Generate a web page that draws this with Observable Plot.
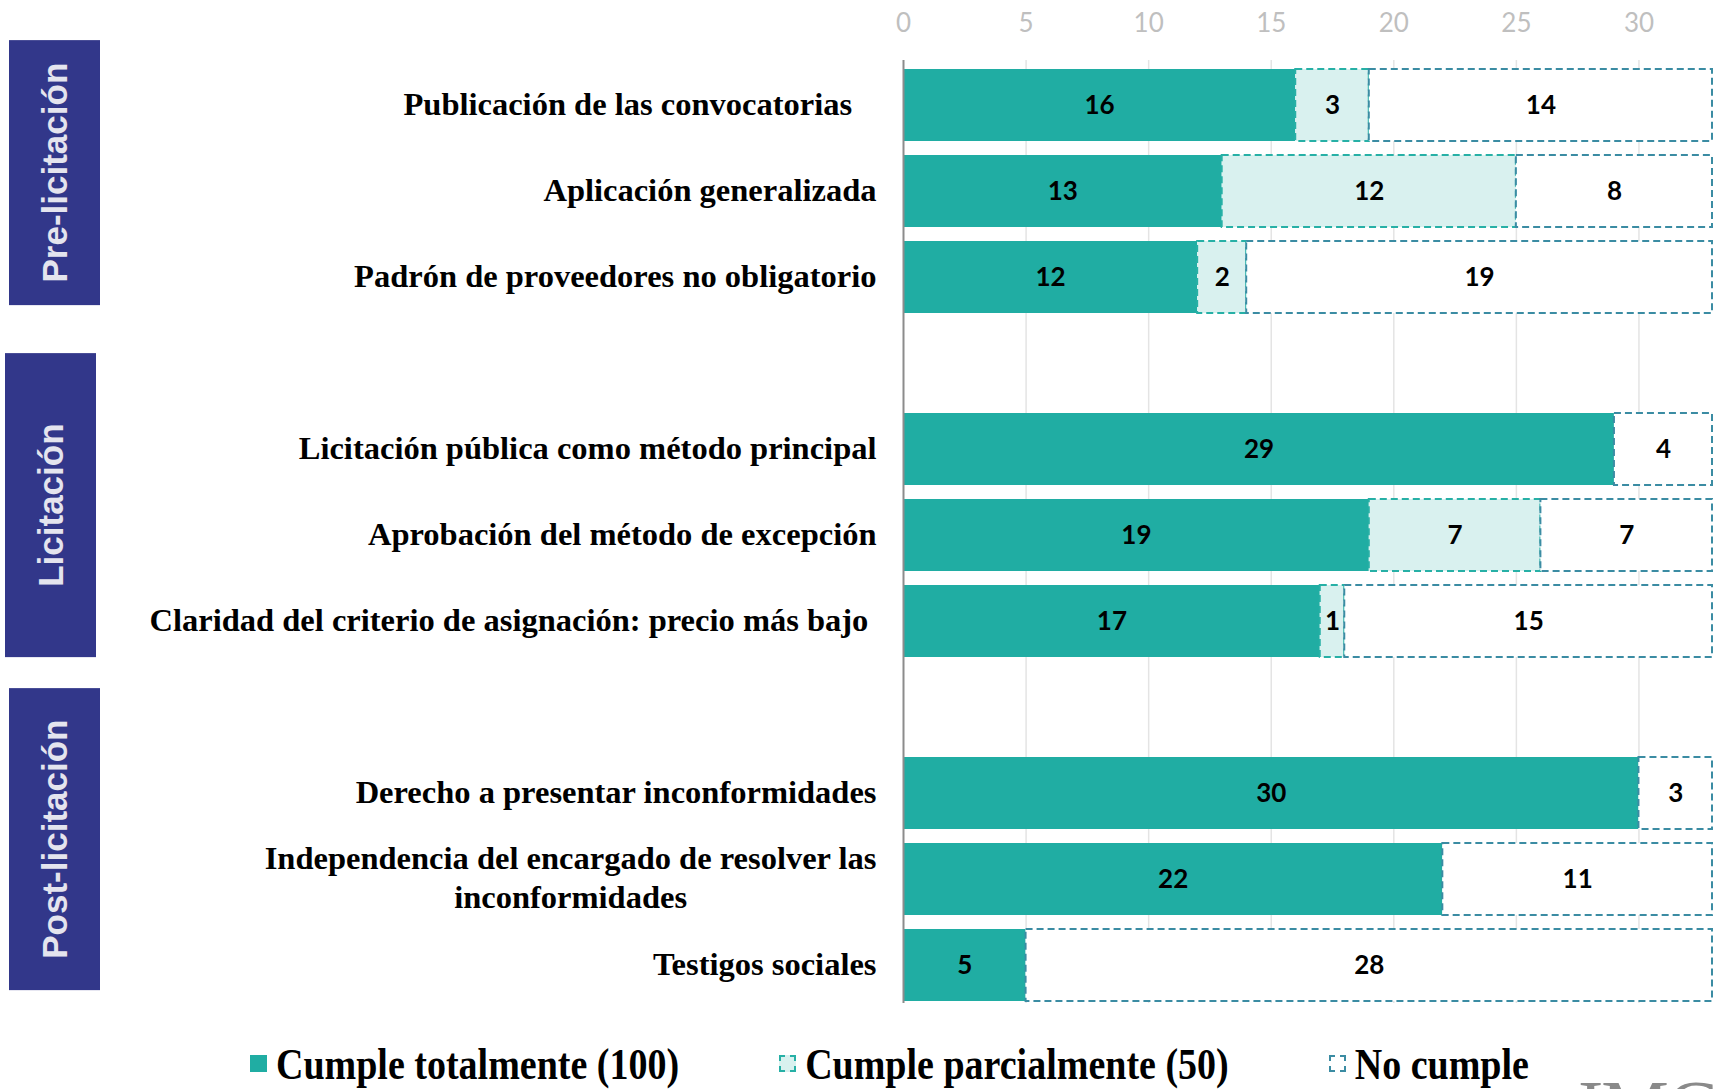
<!DOCTYPE html>
<html>
<head>
<meta charset="utf-8">
<script src="https://cdn.jsdelivr.net/npm/d3@7"></script>
<script src="https://cdn.jsdelivr.net/npm/@observablehq/plot@0.6"></script>
<style>
  html, body { margin: 0; padding: 0; background: #fff; overflow: hidden; }
  #wrap { position: relative; width: 1714px; height: 1089px; overflow: hidden; }
  #chart svg { display: block; }
  g[aria-label="y-axis tick label"] text { font-family: "Liberation Serif", serif; font-weight: bold; font-size: 32.5px; fill: #000; }
  g[aria-label="x-axis tick label"] text { font-family: Lato, "Open Sans", sans-serif; font-size: 26px; fill: #bfbfbf; }
  #legend { position: absolute; left: 0; top: 1028px; width: 1714px; height: 59px; display: flex; align-items: center; padding-top: 12px; box-sizing: border-box; padding-left: 250px; gap: 100px; }
  .item { display: flex; align-items: center; gap: 9px; }
  .sw { width: 17px; height: 17px; box-sizing: border-box; }
  .lt { font-family: "Liberation Serif", serif; font-weight: bold; font-size: 38px; line-height: 1; color: #000; display: inline-block; transform: scaleY(1.18); white-space: nowrap; }
  #logo { position: absolute; left: 1578px; top: 1064px; font-family: "Liberation Serif", serif; font-size: 76px; color: #8a8a8a; letter-spacing: -2px; }
</style>
</head>
<body>
<div id="wrap">
  <div id="chart"></div>
  <div id="legend"></div>
  <div id="logo">IMC</div>
</div>
<script>
// ---------- data ----------
const categories = [
  "Publicación de las convocatorias\u00a0\u00a0\u00a0",
  "Aplicación generalizada",
  "Padrón de proveedores no obligatorio",
  "Licitación pública como método principal",
  "Aprobación del método de excepción",
  "Claridad del criterio de asignación: precio más bajo\u00a0",
  "Derecho a presentar inconformidades",
  "Independencia del encargado de resolver las\ninconformidades",
  "Testigos sociales"
];
const cumpleTotal   = [16, 13, 12, 29, 19, 17, 30, 22, 5];
const cumpleParcial = [3, 12, 2, 0, 7, 1, 0, 0, 0];
const noCumple      = [14, 8, 19, 4, 7, 15, 3, 11, 28];
const statuses = ["Cumple totalmente (100)", "Cumple parcialmente (50)", "No cumple"];
const groups = ["Pre-licitación", "Licitación", "Post-licitación"];
const rowGroup = [0, 0, 0, 1, 1, 1, 2, 2, 2];
const xTicks = [0, 5, 10, 15, 20, 25, 30];

// ---------- styles ----------
const fillColors   = {"Cumple totalmente (100)": "#20ada3", "Cumple parcialmente (50)": "#d9f1ef", "No cumple": "#ffffff"};
const strokeColors = {"Cumple totalmente (100)": "none", "Cumple parcialmente (50)": "#27b0a6", "No cumple": "#3b8ca3"};
const boxStyle = {fill: "#32378a", text: "#e4e4ee", width: 91};
const boxLayout = [ {x: 9, top: -65, bottom: 28}, {x: 5, top: -96, bottom: 36}, {x: 9, top: -105, bottom: 25} ];

// slot keys, with blank slots between groups
const slots = [];
const keyOf = [];
categories.forEach((c, i) => {
  if (i > 0 && rowGroup[i] !== rowGroup[i - 1]) slots.push("gap" + rowGroup[i]);
  const k = "row" + i;
  keyOf.push(k);
  slots.push(k);
});
const labelOf = Object.fromEntries(keyOf.map((k, i) => [k, categories[i]]));

const rows = [];
categories.forEach((c, i) => {
  [cumpleTotal[i], cumpleParcial[i], noCumple[i]].forEach((v, j) => {
    if (v > 0) rows.push({key: keyOf[i], status: statuses[j], value: v});
  });
});

// group boxes as a render-function mark using the y scale
function groupBoxes(index, scales, values, dimensions) {
  const y = scales.y;
  const step = y(slots[1]) - y(slots[0]);
  const bw = step * (1 - 0.16);
  const g = d3.create("svg:g").attr("aria-label", "group boxes");
  groups.forEach((name, gi) => {
    const members = keyOf.filter((k, i) => rowGroup[i] === gi);
    const c0 = y(members[0]) + bw / 2;
    const c1 = y(members[members.length - 1]) + bw / 2;
    const L = boxLayout[gi];
    const top = c0 + L.top, bottom = c1 + L.bottom;
    g.append("rect").attr("x", L.x).attr("y", top).attr("width", boxStyle.width).attr("height", bottom - top)
      .attr("fill", boxStyle.fill);
    const cx = L.x + boxStyle.width / 2, cy = (top + bottom) / 2;
    g.append("text").attr("transform", `translate(${cx},${cy}) rotate(-90)`)
      .attr("text-anchor", "middle").attr("dominant-baseline", "central")
      .attr("font-family", "'Liberation Sans', Arial, sans-serif").attr("font-weight", "bold")
      .attr("font-size", 35).attr("fill", boxStyle.text).text(name);
  });
  return g.node();
}

const chart = Plot.plot({
  width: 1714,
  height: 1030,
  marginLeft: 903,
  marginRight: 2,
  marginTop: 60,
  marginBottom: 19,
  style: {background: "transparent", overflow: "visible"},
  x: {domain: [0, 33], axis: null},
  y: {domain: slots, paddingInner: 0.16, paddingOuter: 0.08, axis: null},
  color: {type: "identity"},
  marks: [
    Plot.gridX({ticks: xTicks.slice(1), stroke: "#e4e4e4", strokeOpacity: 1, strokeWidth: 1.5, insetBottom: 8}),
    Plot.axisX({anchor: "top", ticks: xTicks, tickSize: 0, tickPadding: 29, color: "#bfbfbf", label: null}),
    Plot.axisY({tickSize: 0, tickPadding: 27, dy: -3, tickFormat: k => k.startsWith("gap") ? "" : labelOf[k], lineHeight: 1.2, label: null}),
    Plot.barX(rows, Plot.stackX({
      x: "value", y: "key",
      fill: d => fillColors[d.status],
      stroke: d => strokeColors[d.status],
      strokeWidth: 2, strokeDasharray: "7,4"
    })),
    Plot.ruleX([0], {stroke: "#8c8c8c", strokeWidth: 2, insetBottom: 8}),
    Plot.text(rows, Plot.stackX({
      x: "value", y: "key", text: d => String(d.value),
      fill: "#000", fontWeight: "bold", fontSize: 26, fontFamily: "Lato, 'Open Sans', sans-serif"
    })),
    groupBoxes
  ]
});
document.getElementById("chart").appendChild(chart);

// center the two-line label like the original
chart.querySelectorAll('g[aria-label="y-axis tick label"] text').forEach(t => {
  if (t.querySelectorAll("tspan").length > 1) {
    const w = t.getBBox().width;
    t.setAttribute("text-anchor", "middle");
    t.setAttribute("transform", (t.getAttribute("transform") || "") + ` translate(${-w / 2},0)`);
  }
});

// legend
const legend = document.getElementById("legend");
statuses.forEach(s => {
  const item = document.createElement("div");
  item.className = "item";
  const sw = document.createElement("div");
  sw.className = "sw";
  sw.style.background = fillColors[s];
  if (strokeColors[s] !== "none") sw.style.border = `2px dashed ${strokeColors[s]}`;
  const lt = document.createElement("span");
  lt.className = "lt";
  lt.textContent = s;
  item.appendChild(sw);
  item.appendChild(lt);
  legend.appendChild(item);
});
</script>
</body>
</html>
